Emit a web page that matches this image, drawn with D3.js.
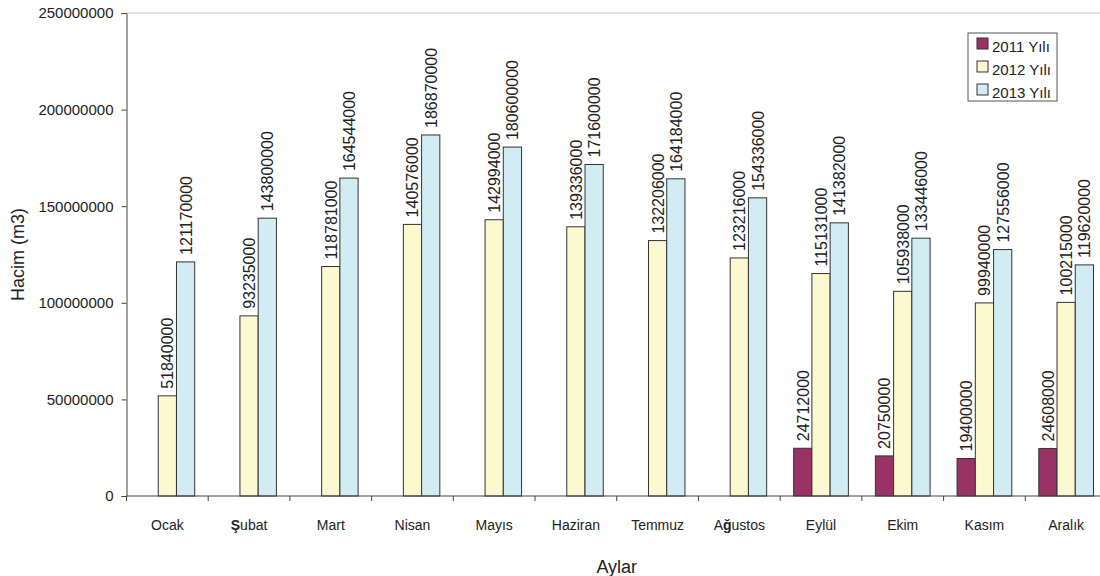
<!DOCTYPE html>
<html>
<head>
<meta charset="utf-8">
<script src="https://cdn.jsdelivr.net/npm/d3@7"></script>
<style>
  body { margin: 0; background: #fff; }
  text { font-family: "Liberation Sans", Arial, sans-serif; fill: #222; }
</style>
</head>
<body>
<div id="chart"></div>
<script>
// data
var months = ["Ocak", "Şubat", "Mart", "Nisan", "Mayıs", "Haziran", "Temmuz", "Ağustos", "Eylül", "Ekim", "Kasım", "Aralık"];
var seriesNames = ["2011 Yılı", "2012 Yılı", "2013 Yılı"];
var y2011 = [null, null, null, null, null, null, null, null, 24712000, 20750000, 19400000, 24608000];
var y2012 = [51840000, 93235000, 118781000, 140576000, 142994000, 139336000, 132206000, 123216000, 115131000, 105938000, 99940000, 100215000];
var y2013 = [121170000, 143800000, 164544000, 186870000, 180600000, 171600000, 164184000, 154336000, 141382000, 133446000, 127556000, 119620000];
var yTicks = [0, 50000000, 100000000, 150000000, 200000000, 250000000];

var colors = ["#993366", "#FCF9D0", "#D2ECF3"];
var allSeries = [y2011, y2012, y2013];

var W = 1100, H = 576;
var margin = {top: 13, left: 126.5, bottom: 80};
var plotRight = 1107;

var svg = d3.select("#chart").append("svg")
    .attr("width", W).attr("height", H);

var x = d3.scaleBand().domain(months)
    .range([margin.left, plotRight]).paddingInner(0).paddingOuter(0);
var x1 = d3.scaleBand().domain([0, 1, 2])
    .range([0, x.bandwidth()]).paddingOuter(0.74).paddingInner(0);
var y = d3.scaleLinear().domain([0, 250000000]).range([H - margin.bottom, margin.top]);

// top border of plot
svg.append("line")
    .attr("x1", margin.left).attr("x2", W)
    .attr("y1", y(250000000)).attr("y2", y(250000000))
    .attr("stroke", "#c8c8c8").attr("stroke-width", 1);

// bars
months.forEach(function(m, i) {
  allSeries.forEach(function(s, k) {
    var v = s[i];
    if (v == null) return;
    var bx = x(m) + x1(k);
    svg.append("rect")
      .attr("x", bx).attr("y", y(v))
      .attr("width", x1.bandwidth()).attr("height", y(0) - y(v))
      .attr("fill", colors[k]).attr("stroke", "#333").attr("stroke-width", 1);
    var cx = bx + x1.bandwidth() / 2;
    svg.append("text")
      .attr("transform", "translate(" + (cx + 6) + "," + (y(v) - 7) + ") rotate(-90)")
      .attr("font-size", 16)
      .text(v);
  });
});

// Y axis
var yAxis = svg.append("g")
    .attr("transform", "translate(" + margin.left + ",0)")
    .call(d3.axisLeft(y).tickValues(yTicks).tickSize(5).tickPadding(8).tickFormat(d3.format("d")));
yAxis.select(".domain").attr("stroke", "#444");
yAxis.selectAll(".tick line").attr("stroke", "#444");
yAxis.selectAll("text").attr("font-size", 15).attr("fill", "#222")
    .attr("font-family", "Liberation Sans, Arial, sans-serif");

// X axis
var xAxis = svg.append("g")
    .attr("transform", "translate(0," + y(0) + ")");
xAxis.append("line")
    .attr("x1", margin.left).attr("x2", W)
    .attr("stroke", "#444");
months.concat(["end"]).forEach(function(m, i) {
  var tx = margin.left + i * x.bandwidth();
  xAxis.append("line")
    .attr("x1", tx).attr("x2", tx).attr("y1", 0).attr("y2", 5)
    .attr("stroke", "#444");
});
months.forEach(function(m) {
  var t = xAxis.append("text")
    .attr("x", x(m) + x.bandwidth() / 2)
    .attr("y", 34)
    .attr("text-anchor", "middle")
    .attr("font-size", 14);
  // Ş and ğ were rendered in a bolder fallback face
  m.split(/([Şğ])/).forEach(function(part) {
    if (!part) return;
    var sp = t.append("tspan").text(part);
    if (part === "Ş" || part === "ğ") sp.attr("font-weight", "bold");
  });
});

// axis titles
svg.append("text")
    .attr("x", (margin.left + plotRight) / 2).attr("y", 573)
    .attr("text-anchor", "middle").attr("font-size", 18)
    .text("Aylar");
svg.append("text")
    .attr("transform", "translate(24," + (y(125000000)) + ") rotate(-90)")
    .attr("text-anchor", "middle").attr("font-size", 18)
    .text("Hacim (m3)");

// legend
var lg = svg.append("g").attr("transform", "translate(968,33)");
lg.append("rect").attr("width", 89).attr("height", 68)
    .attr("fill", "#fff").attr("stroke", "#555");
seriesNames.forEach(function(n, k) {
  var ry = 11 + k * 23;
  lg.append("rect").attr("x", 9).attr("y", ry - 6).attr("width", 11).attr("height", 11)
    .attr("fill", colors[k]).attr("stroke", "#333");
  lg.append("text").attr("x", 24).attr("y", ry + 8)
    .attr("font-size", 15).text(n);
});
</script>
</body>
</html>
